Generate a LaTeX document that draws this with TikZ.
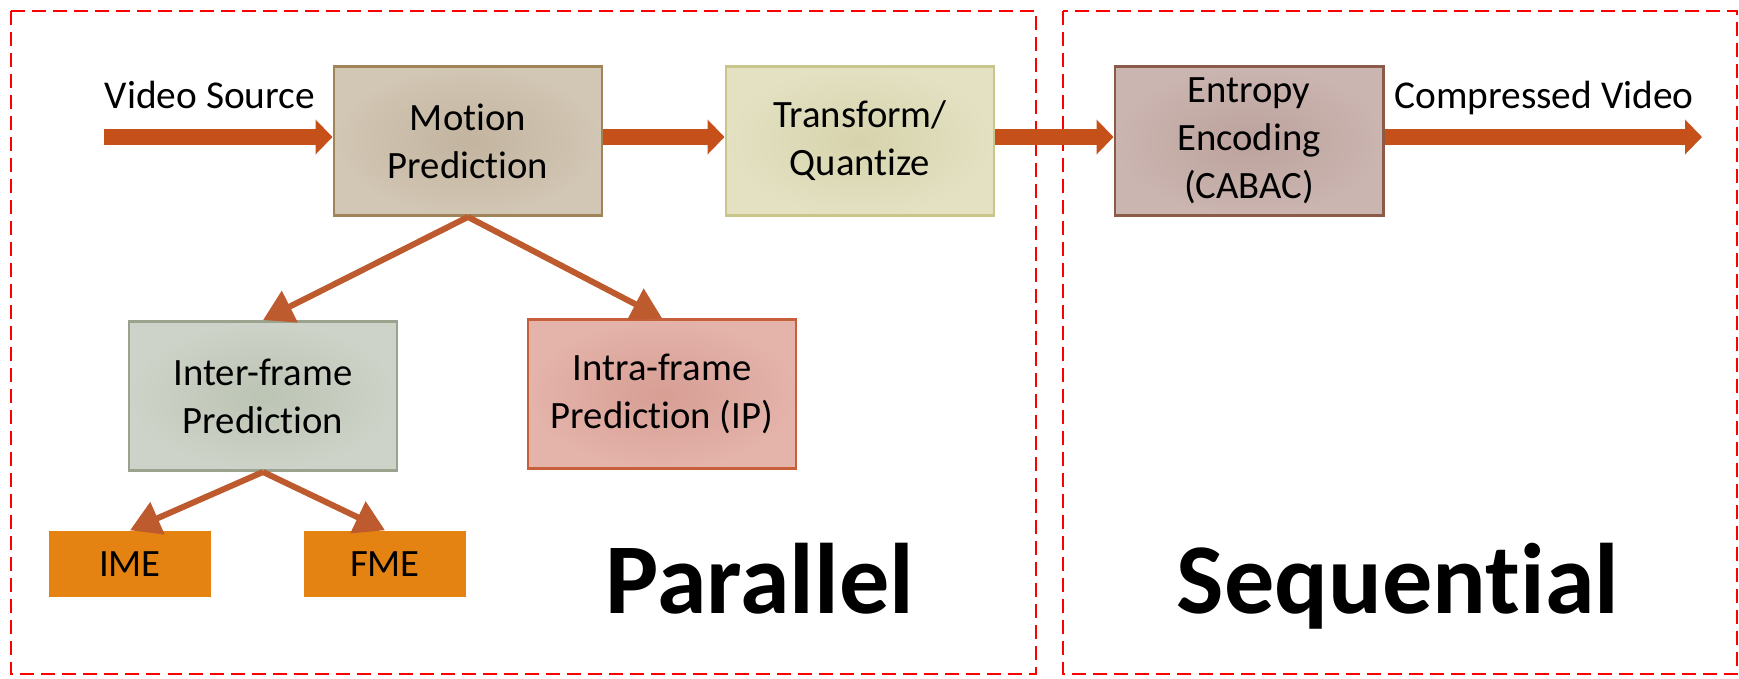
\documentclass[tikz,border=0pt]{standalone}
\usepackage{fontspec}
\setmainfont{Carlito}[Ligatures={NoCommon,NoContextual}]
\usetikzlibrary{arrows.meta}
\definecolor{flowc}{RGB}{197,80,26}
\definecolor{branchc}{RGB}{189,90,46}
\definecolor{meorange}{RGB}{229,131,18}
\begin{document}
\begin{tikzpicture}[x=0.01cm, y=-0.01cm,
  stage/.style={draw, line width=0.8pt, shading=radial, minimum width=2.68cm, minimum height=1.49cm,
    inner sep=0pt, align=center, font=\fontsize{11}{13.7}\selectfont},
  mebox/.style={fill=meorange, minimum width=1.62cm, minimum height=0.66cm, inner sep=0pt,
    font=\fontsize{11}{13.7}\selectfont},
  sidetext/.style={anchor=base, inner sep=0pt, font=\fontsize{11.2}{13.7}\selectfont},
  bigword/.style={anchor=base, inner sep=0pt, font=\fontsize{28.5}{32}\selectfont\bfseries},
  flow/.style={flowc, line width=0.16cm, -{Triangle[length=0.17cm, width=0.34cm]}},
  branch/.style={branchc, line width=0.06cm, -{Triangle[length=0.3cm, width=0.34cm]}},
  region/.style={red, dash pattern=on 0.14cm off 0.07cm, line width=0.8pt}]
\useasboundingbox (0,0) rectangle (1739,678);
% the two halves
\draw[region] (11,11) rectangle (1036,674);
\draw[region] (1063,11) rectangle (1737,674);
% main chain
\node[stage, draw={rgb,255:red,160;green,132;blue,88}, inner color={rgb,255:red,194;green,180;blue,159},
  outer color={rgb,255:red,210;green,198;blue,180}] (motion) at (468,141) {Motion\\Prediction};
\node[stage, draw={rgb,255:red,201;green,198;blue,140}, inner color={rgb,255:red,214;green,211;blue,172},
  outer color={rgb,255:red,228;green,225;blue,195}] (trans) at (860,141) {Transform/\\Quantize};
\node[stage, draw={rgb,255:red,140;green,90;blue,72}, inner color={rgb,255:red,188;green,162;blue,156},
  outer color={rgb,255:red,203;green,181;blue,176}] (entropy) at (1249,141) {Entropy\\Encoding\\(CABAC)};
% prediction tree
\node[stage, draw={rgb,255:red,154;green,163;blue,141}, inner color={rgb,255:red,188;green,196;blue,180},
  outer color={rgb,255:red,205;green,211;blue,200}] (inter) at (263,396) {Inter-frame\\Prediction};
\node[stage, draw={rgb,255:red,198;green,95;blue,58}, inner color={rgb,255:red,215;green,158;blue,148},
  outer color={rgb,255:red,228;green,179;blue,170}] (intra) at (662,394) {Intra-frame\\Prediction (IP)};
\node[mebox] (ime) at (130,564) {IME};
\node[mebox] (fme) at (385,564) {FME};
% texts
\node[sidetext] (srctext) at (210,108) {Video Source};
\node[sidetext] (outtext) at (1544,108) {Compressed Video};
\node[bigword] (par) at (760,613) {Parallel};
\node[bigword] (seq) at (1398,613) {Sequential};
\coordinate (src) at (104,137);
\coordinate (out) at (1702,137);
% arrows
\draw[flow] (src) -- (src -| motion.west);
\draw[flow] (motion.east |- src) -- (trans.west |- src);
\draw[flow] (trans.east |- src) -- (entropy.west |- src);
\draw[flow] (entropy.east |- src) -- (out);
\draw[branch] (motion.south) -- (inter.north);
\draw[branch] (motion.south) -- (intra.north);
\draw[branch] (inter.south) -- (ime.north);
\draw[branch] (inter.south) -- (fme.north);
\end{tikzpicture}
\end{document}
